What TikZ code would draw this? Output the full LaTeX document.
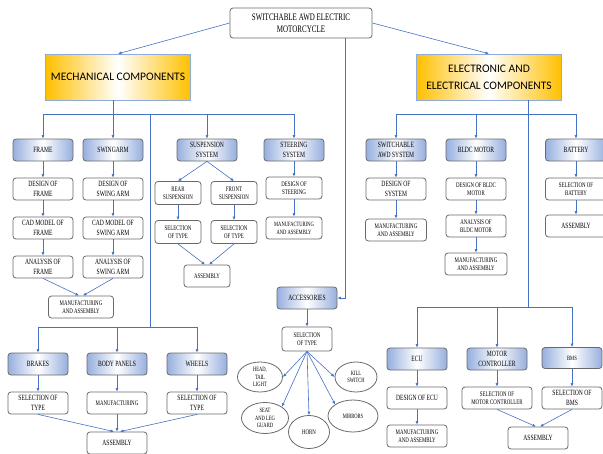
\documentclass[tikz,border=0pt]{standalone}
\usepackage{fontspec}
\setmainfont{Liberation Serif}
\newfontfamily\boxfont[FakeStretch=0.7]{Liberation Serif}
\newfontfamily\titlefont{Carlito}
\usetikzlibrary{arrows.meta,shapes.geometric}
\definecolor{linkblue}{RGB}{68,114,196}
\definecolor{headblue}{RGB}{150,175,222}
\definecolor{boxgray}{RGB}{105,105,105}
\definecolor{gold}{RGB}{255,192,0}
\tikzset{
    boxbase/.style={rounded corners=3pt, draw=boxgray, line width=0.8pt, align=center, inner sep=0pt,
        minimum width=60pt, minimum height=22pt, font=\boxfont\fontsize{8}{9.5}\selectfont},
    hdrbox/.style={boxbase, left color=headblue, right color=headblue, middle color=white},
    plainbox/.style={boxbase, fill=white},
    bigbox/.style={draw=linkblue!60, line width=0.5pt, left color=gold, right color=gold, middle color=white,
        minimum width=145pt, minimum height=46pt, align=center, font=\titlefont\fontsize{11.5}{17}\selectfont},
    ovalbox/.style={ellipse, draw=boxgray, line width=0.8pt, fill=white, align=center, inner sep=0pt,
        font=\boxfont\fontsize{6.5}{7.5}\selectfont},
    small/.style={font=\boxfont\fontsize{7}{8.5}\selectfont},
    link/.style={draw=linkblue, line width=0.6pt},
    arr/.style={link, -{Latex[length=3.5pt,width=3pt]}}
}

\begin{document}
\begin{tikzpicture}[x=1pt, y=-1pt]
                    \useasboundingbox (0,0) rectangle (603,453);
                    % top level
                    \node[plainbox, minimum width=142pt, minimum height=30pt, font=\boxfont\fontsize{10}{12}\selectfont] (top) at (301,23) {SWITCHABLE AWD ELECTRIC\\MOTORCYCLE};
                    \node[bigbox] (mech) at (118,77) {MECHANICAL COMPONENTS};
                    \node[bigbox] (elec) at (489,77) {ELECTRONIC AND\\ELECTRICAL COMPONENTS};
                    % mechanical
                    \node[hdrbox] (frame) at (43,150) {FRAME};
                    \node[hdrbox] (swing) at (113,150) {SWINGARM};
                    \node[hdrbox] (susp) at (207,150) {SUSPENSION\\SYSTEM};
                    \node[hdrbox] (steer) at (294,150) {STEERING\\SYSTEM};
                    \node[plainbox] (dframe) at (43,189) {DESIGN OF\\FRAME};
                    \node[plainbox] (dswing) at (113,189) {DESIGN OF\\SWING ARM};
                    \node[plainbox] (cframe) at (43,228) {CAD MODEL OF\\FRAME};
                    \node[plainbox] (cswing) at (113,228) {CAD MODEL OF\\SWING ARM};
                    \node[plainbox] (aframe) at (43,267) {ANALYSIS OF\\FRAME};
                    \node[plainbox] (aswing) at (113,267) {ANALYSIS OF\\SWING ARM};
                    \node[plainbox, small, minimum width=65pt] (mframe) at (81,307) {MANUFACTURING\\AND ASSEMBLY};
                    \node[plainbox, small, minimum width=46pt, minimum height=23pt] (rear) at (178,193) {REAR\\SUSPENSION};
                    \node[plainbox, small, minimum width=46pt, minimum height=23pt] (front) at (234,193) {FRONT\\SUSPENSION};
                    \node[plainbox, small, minimum width=46pt, minimum height=23pt] (srear) at (178,232) {SELECTION\\OF TYPE};
                    \node[plainbox, small, minimum width=46pt, minimum height=23pt] (sfront) at (234,232) {SELECTION\\OF TYPE};
                    \node[plainbox, small, minimum width=46pt] (asusp) at (207,276) {ASSEMBLY};
                    \node[plainbox, small, minimum width=56pt] (dsteer) at (294,188) {DESIGN OF\\STEERING};
                    \node[plainbox, minimum width=56pt, font=\boxfont\fontsize{6.5}{8}\selectfont] (msteer) at (294,228) {MANUFACTURING\\AND ASSEMBLY};
                    \node[hdrbox] (brakes) at (38,364) {BRAKES};
                    \node[hdrbox] (body) at (117,364) {BODY PANELS};
                    \node[hdrbox] (wheels) at (197,364) {WHEELS};
                    \node[plainbox] (sbrakes) at (38,403) {SELECTION OF\\TYPE};
                    \node[plainbox, small] (mbody) at (117,403) {MANUFACTURING};
                    \node[plainbox] (swheels) at (197,403) {SELECTION OF\\TYPE};
                    \node[plainbox] (abody) at (117,443) {ASSEMBLY};
                    % accessories
                    \node[hdrbox] (acc) at (307,298) {ACCESSORIES};
                    \node[plainbox, small, minimum width=50pt, minimum height=24pt] (sacc) at (307,339) {SELECTION\\OF TYPE};
                    \node[ovalbox, minimum width=45pt, minimum height=30pt] (head) at (260,377) {HEAD,\\TAIL\\LIGHT};
                    \node[ovalbox, minimum width=42pt, minimum height=30pt] (kill) at (356,377) {KILL\\SWITCH};
                    \node[ovalbox, minimum width=47pt, minimum height=31pt] (seat) at (265,418) {SEAT\\AND LEG\\GUARD};
                    \node[ovalbox, minimum width=41pt, minimum height=33pt, small] (horn) at (309,432) {HORN};
                    \node[ovalbox, minimum width=50pt, minimum height=32pt] (mirr) at (353,416) {MIRRORS};
                    % electronic
                    \node[hdrbox] (awd) at (396,150) {SWITCHABLE\\AWD SYSTEM};
                    \node[hdrbox] (bldc) at (476,150) {BLDC MOTOR};
                    \node[hdrbox, minimum width=61pt] (batt) at (576,150) {BATTERY};
                    \node[plainbox] (dawd) at (396,189) {DESIGN OF\\SYSTEM};
                    \node[plainbox, small, minimum width=61pt] (mawd) at (396,230) {MANUFACTURING\\AND ASSEMBLY};
                    \node[plainbox, small] (dbldc) at (476,189) {DESIGN OF BLDC\\MOTOR};
                    \node[plainbox, small] (abldc) at (476,226) {ANALYSIS OF\\BLDC MOTOR};
                    \node[plainbox, small, minimum width=62pt] (mbldc) at (476,264) {MANUFACTURING\\AND ASSEMBLY};
                    \node[plainbox, small, minimum width=61pt] (sbatt) at (576,189) {SELECTION OF\\BATTERY};
                    \node[plainbox, minimum width=61pt] (abatt) at (576,226) {ASSEMBLY};
                    \node[hdrbox] (ecu) at (417,359) {ECU};
                    \node[hdrbox] (mc) at (497,359) {MOTOR\\CONTROLLER};
                    \node[hdrbox, minimum height=21pt, font=\boxfont\fontsize{6.5}{8}\selectfont] (bms) at (572,358) {BMS};
                    \node[plainbox] (decu) at (417,398) {DESIGN OF ECU};
                    \node[plainbox, small] (mecu) at (417,436) {MANUFACTURING\\AND ASSEMBLY};
                    \node[plainbox, small, minimum width=70pt] (smc) at (497,398) {SELECTION OF\\MOTOR CONTROLLER};
                    \node[plainbox] (sbms) at (572,398) {SELECTION OF\\BMS};
                    \node[plainbox] (aelec) at (538,438) {ASSEMBLY};
                    % bus points
                    \coordinate (mbus) at (113,114);
                    \coordinate (mdrop) at (150,114);
                    \coordinate (lbus) at (150,327);
                    \coordinate (ebus) at (528,114);
                    \coordinate (lebus) at (528,307);
                    % connectors
                    \draw[arr] (top.west) -- (mech.north);
                    \draw[arr] (top.east) -- (elec.north);
                    \draw[arr] ([xshift=44pt]top.south) |- (acc.east);
                    \draw[link] (mech.south -| mbus) -- (mbus);
                    \draw[link] (frame.north |- mbus) -- (steer.north |- mbus);
                    \draw[link] (mdrop) -- (lbus);
                    \draw[link] (brakes.north |- lbus) -- (wheels.north |- lbus);
                    \draw[link] (elec.south -| ebus) -- (lebus);
                    \draw[link] (awd.north |- ebus) -- (batt.north |- ebus);
                    \draw[link] (ecu.north |- lebus) -- (bms.north |- lebus);
                    \foreach \n in {frame,swing,susp,steer,awd,bldc,batt}
                        \draw[arr] (\n.north |- mbus) -- (\n.north);
                    \foreach \n in {brakes,body,wheels}
                        \draw[arr] (\n.north |- lbus) -- (\n.north);
                    \foreach \n in {ecu,mc,bms}
                        \draw[arr] (\n.north |- lebus) -- (\n.north);
                    \foreach \a/\b in {frame/dframe,dframe/cframe,cframe/aframe,swing/dswing,dswing/cswing,cswing/aswing,
                                       susp/rear,susp/front,rear/srear,front/sfront,steer/dsteer,dsteer/msteer,
                                       brakes/sbrakes,body/mbody,wheels/swheels,mbody/abody,acc/sacc,
                                       awd/dawd,dawd/mawd,bldc/dbldc,dbldc/abldc,abldc/mbldc,batt/sbatt,sbatt/abatt,
                                       ecu/decu,decu/mecu,mc/smc,bms/sbms}
                        \draw[arr] (\a.south) -- (\b.north);
                    \draw[arr] (aframe.south) -- ([xshift=-2pt]mframe.north);
                    \draw[arr] (aswing.south) -- ([xshift=2pt]mframe.north);
                    \draw[arr] (srear.south) -- ([xshift=-2pt]asusp.north);
                    \draw[arr] (sfront.south) -- ([xshift=2pt]asusp.north);
                    \draw[arr] (sbrakes.south) -- ([xshift=-3pt]abody.north);
                    \draw[arr] (swheels.south) -- ([xshift=3pt]abody.north);
                    \draw[arr] (smc.south) -- ([xshift=-2pt]aelec.north);
                    \draw[arr] (sbms.south) -- ([xshift=2pt]aelec.north);
                    \draw[arr] (sacc.south) -- (head.east);
                    \draw[arr] (sacc.south) -- (kill.west);
                    \draw[arr] (sacc.south) -- (seat.north east);
                    \draw[arr] (sacc.south) -- (horn.north);
                    \draw[arr] (sacc.south) -- (mirr.north west);
                \end{tikzpicture}
\end{document}
